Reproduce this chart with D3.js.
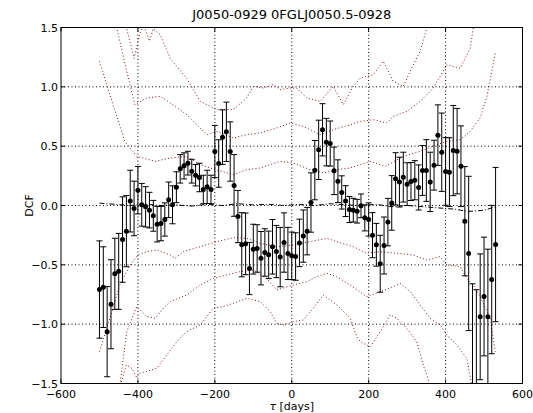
<!DOCTYPE html>
<html>
<head>
<meta charset="utf-8">
<script src="https://cdn.jsdelivr.net/npm/d3@7"></script>
<style>
  body { margin: 0; background: #fff; }
  svg { display: block; }
  text { font-family: "DejaVu Sans", sans-serif; fill: #000; }
</style>
</head>
<body>
<svg id="chart" width="533" height="413"></svg>
<script>
// Discrete correlation function, lag bins in days
const lagDays = [
  -500, -490, -480, -470, -460, -450, -440, -430, -420, -410,
  -400, -390, -380, -370, -360, -350, -340, -330, -320, -310,
  -300, -290, -280, -270, -260, -250, -240, -230, -220, -210,
  -200, -190, -180, -170, -160, -150, -140, -130, -120, -110,
  -100, -90, -80, -70, -60, -50, -40, -30, -20, -10,
  0, 10, 20, 30, 40, 50, 60, 70, 80, 90,
  100, 110, 120, 130, 140, 150, 160, 170, 180, 190,
  200, 210, 220, 230, 240, 250, 260, 270, 280, 290,
  300, 310, 320, 330, 340, 350, 360, 370, 380, 390,
  400, 410, 420, 430, 440, 450, 460, 470, 480, 490,
  500, 510, 520, 530
];
const dcfValues = [
  -0.708, -0.688, -1.063, -0.832, -0.576, -0.555, -0.287, -0.216, 0.037, -0.025,
  0.129, 0.006, -0.011, -0.039, -0.087, -0.157, -0.152, -0.118, 0.048, 0.006,
  0.154, 0.309, 0.334, 0.357, 0.289, 0.255, 0.236, 0.135, 0.157, 0.135,
  0.455, 0.354, 0.576, 0.621, 0.455, 0.169, -0.093, -0.331, -0.323, -0.531,
  -0.368, -0.362, -0.444, -0.396, -0.416, -0.348, -0.388, -0.435, -0.312, -0.404,
  -0.424, -0.430, -0.315, -0.258, -0.216, 0.025, 0.298, 0.469, 0.638, 0.534,
  0.522, 0.292, 0.205, 0.110, 0.037, -0.034, -0.039, -0.048, -0.003, -0.104,
  -0.118, -0.250, -0.331, -0.491, -0.337, -0.140, 0.022, 0.225, 0.197, 0.239,
  0.180, 0.202, 0.213, 0.152, 0.295, 0.295, 0.199, 0.340, 0.593, 0.449,
  0.287, 0.281, 0.463, 0.458, 0.331, -0.132, -0.404, -1.58, -1.62, -0.938,
  -0.767, -0.938, -0.624, -0.329
];
const dcfErrors = [
  0.41, 0.34, 0.38, 0.375, 0.30, 0.32, 0.36, 0.30, 0.26, 0.23,
  0.20, 0.18, 0.17, 0.15, 0.13, 0.15, 0.145, 0.14, 0.15, 0.16,
  0.13, 0.12, 0.11, 0.10, 0.10, 0.09, 0.12, 0.12, 0.14, 0.12,
  0.22, 0.20, 0.23, 0.25, 0.25, 0.26, 0.22, 0.27, 0.26, 0.22,
  0.21, 0.20, 0.225, 0.20, 0.20, 0.23, 0.22, 0.25, 0.25, 0.22,
  0.20, 0.20, 0.20, 0.22, 0.20, 0.25, 0.25, 0.25, 0.22, 0.20,
  0.19, 0.20, 0.18, 0.14, 0.13, 0.11, 0.10, 0.10, 0.10, 0.11,
  0.14, 0.19, 0.18, 0.24, 0.24, 0.20, 0.23, 0.22, 0.21, 0.21,
  0.18, 0.16, 0.165, 0.19, 0.21, 0.26, 0.25, 0.21, 0.255, 0.33,
  0.285, 0.29, 0.38, 0.36, 0.34, 0.46, 0.65, 0.92, 0.91, 0.53,
  0.50, 0.57, 0.625, 0.65
];

// Significance levels from simulated light curves: [lag, DCF]
const upper1 = [[-500,1.215],[-473,0.934],[-434,0.54],[-403,0.414],[-355,0.372],[-316,0.40],[-273,0.414],[-238,0.344],[-199,0.302],[-152,0.26],[-117,0.302],[-82,0.316],[-30,0.372],[4,0.358],[48,0.302],[82,0.274],[117,0.302],[152,0.316],[204,0.372],[243,0.33],[290,0.414],[334,0.456],[377,0.512],[403,0.54],[438,0.555],[464,0.625],[490,0.74],[507,0.913],[520,1.13],[529,1.285]];
const upper2 = [[-500,2.3],[-455,1.495],[-429,1.13],[-408,0.85],[-377,0.906],[-342,0.92],[-316,0.864],[-273,0.766],[-238,0.653],[-221,0.597],[-195,0.625],[-152,0.568],[-117,0.597],[-82,0.611],[-39,0.653],[-4,0.695],[30,0.667],[74,0.597],[108,0.639],[152,0.681],[178,0.709],[212,0.723],[247,0.695],[264,0.751],[299,0.793],[334,0.878],[368,0.99],[403,1.185],[438,1.157],[464,1.325],[472,1.495],[530,2.3]];
const upper3 = [[-500,2.8],[-430,1.5],[-410,1.24],[-395,1.45],[-385,1.52],[-370,1.386],[-360,1.49],[-342,1.44],[-316,1.24],[-273,1.07],[-238,0.878],[-195,0.808],[-152,0.808],[-117,0.906],[-100,1.004],[-74,0.99],[-48,1.018],[-30,0.976],[-4,0.99],[13,0.99],[39,0.906],[74,0.878],[108,1.004],[134,0.85],[160,1.004],[178,1.074],[212,1.102],[238,1.215],[264,1.046],[290,1.004],[316,1.186],[334,1.30],[351,1.495],[380,2.2],[530,3.0]];
const lower1 = [[-500,-1.232],[-473,-0.95],[-447,-0.67],[-420,-0.501],[-400,-0.417],[-377,-0.389],[-351,-0.375],[-316,-0.417],[-303,-0.445],[-282,-0.389],[-238,-0.347],[-195,-0.305],[-152,-0.271],[-117,-0.277],[-82,-0.319],[-39,-0.347],[4,-0.333],[48,-0.305],[91,-0.277],[117,-0.305],[160,-0.347],[195,-0.403],[230,-0.389],[273,-0.403],[316,-0.417],[351,-0.459],[386,-0.431],[403,-0.501],[438,-0.515],[455,-0.614],[472,-0.67],[490,-0.768],[516,-0.95],[529,-1.232]];
const lower2 = [[-500,-2.3],[-447,-1.512],[-429,-1.063],[-403,-0.852],[-377,-0.936],[-355,-0.95],[-334,-0.866],[-316,-0.81],[-273,-0.754],[-238,-0.67],[-204,-0.614],[-169,-0.585],[-134,-0.557],[-100,-0.543],[-65,-0.614],[-39,-0.712],[4,-0.67],[39,-0.642],[65,-0.60],[91,-0.571],[117,-0.60],[152,-0.67],[195,-0.768],[230,-0.726],[264,-0.684],[282,-0.656],[308,-0.726],[334,-0.838],[360,-0.95],[386,-1.007],[403,-1.091],[429,-1.175],[455,-1.288],[468,-1.512],[530,-2.3]];
const lower3 = [[-500,-2.5],[-446,-1.52],[-430,-1.344],[-416,-1.372],[-403,-1.45],[-395,-1.414],[-351,-1.372],[-325,-1.26],[-299,-1.147],[-273,-1.063],[-238,-1.007],[-204,-0.866],[-178,-0.852],[-152,-0.824],[-117,-0.782],[-82,-0.81],[-56,-0.894],[-39,-0.993],[-22,-1.007],[4,-0.979],[30,-0.965],[56,-0.866],[82,-0.754],[117,-0.838],[152,-0.95],[169,-1.105],[178,-1.147],[204,-1.19],[230,-1.063],[256,-0.922],[273,-0.95],[299,-1.035],[325,-1.147],[342,-1.344],[360,-1.512],[400,-2.3],[530,-3.0]];
// Mean of the simulated DCFs
const simMean = [[-500,0.02],[-460,0.01],[-420,0.0],[-380,0.01],[-340,0.0],[-300,0.005],[-260,-0.005],[-220,0.01],[-180,0.0],[-140,0.015],[-100,0.005],[-60,0.01],[-20,0.0],[20,0.01],[60,0.0],[100,0.015],[140,0.005],[180,0.0],[220,0.01],[260,-0.01],[300,0.0],[340,-0.01],[380,-0.02],[420,-0.03],[460,-0.05],[500,-0.04],[530,-0.01]];

const xTicks = [-600, -400, -200, 0, 200, 400, 600];
const yTicks = [-1.5, -1.0, -0.5, 0.0, 0.5, 1.0, 1.5];
const titleText = "J0050-0929 0FGLJ0050.5-0928";

const svg = d3.select("#chart");
const plotLeft = 61, plotRight = 522.5, plotTop = 27.5, plotBottom = 383.5;
const x = d3.scaleLinear().domain([-600, 600]).range([plotLeft, plotRight]);
const y = d3.scaleLinear().domain([-1.5, 1.5]).range([plotBottom, plotTop]);

svg.append("defs").append("clipPath").attr("id", "plotClip")
  .append("rect").attr("x", plotLeft).attr("y", plotTop)
  .attr("width", plotRight - plotLeft).attr("height", plotBottom - plotTop);

// grid
const grid = svg.append("g");
grid.selectAll("line.gx").data(xTicks.slice(1, -1)).join("line")
  .attr("x1", d => x(d)).attr("x2", d => x(d)).attr("y1", plotTop).attr("y2", plotBottom)
  .attr("stroke", "#000").attr("stroke-width", 1).attr("stroke-dasharray", "1,2.5");
grid.selectAll("line.gy").data(yTicks.slice(1, -1)).join("line")
  .attr("y1", d => y(d)).attr("y2", d => y(d)).attr("x1", plotLeft).attr("x2", plotRight)
  .attr("stroke", "#000").attr("stroke-width", 1).attr("stroke-dasharray", "1,2.5");

const plot = svg.append("g").attr("clip-path", "url(#plotClip)");
const line = d3.line().x(d => x(d[0])).y(d => y(d[1]));

[upper1, upper2, upper3, lower1, lower2, lower3].forEach(lv => {
  plot.append("path").attr("d", line(lv)).attr("fill", "none")
    .attr("stroke", "#8b1010").attr("stroke-width", 1).attr("stroke-dasharray", "1,2.3");
});
plot.append("path").attr("d", line(simMean)).attr("fill", "none")
  .attr("stroke", "#000").attr("stroke-width", 1).attr("stroke-dasharray", "5,2,1,2");

// error bars
const pts = lagDays.map((t, i) => ({ t, v: dcfValues[i], e: dcfErrors[i] }));
const eb = plot.append("g").attr("stroke", "#000").attr("stroke-width", 1);
eb.selectAll("line.bar").data(pts).join("line")
  .attr("x1", d => x(d.t)).attr("x2", d => x(d.t))
  .attr("y1", d => y(d.v + d.e)).attr("y2", d => y(d.v - d.e));
eb.selectAll("line.capHi").data(pts).join("line")
  .attr("x1", d => x(d.t) - 3).attr("x2", d => x(d.t) + 3)
  .attr("y1", d => y(d.v + d.e)).attr("y2", d => y(d.v + d.e));
eb.selectAll("line.capLo").data(pts).join("line")
  .attr("x1", d => x(d.t) - 3).attr("x2", d => x(d.t) + 3)
  .attr("y1", d => y(d.v - d.e)).attr("y2", d => y(d.v - d.e));
plot.selectAll("circle").data(pts).join("circle")
  .attr("cx", d => x(d.t)).attr("cy", d => y(d.v)).attr("r", 2.5).attr("fill", "#000");

// frame and ticks (inward on all sides)
svg.append("rect").attr("x", plotLeft).attr("y", plotTop)
  .attr("width", plotRight - plotLeft).attr("height", plotBottom - plotTop)
  .attr("fill", "none").attr("stroke", "#000").attr("stroke-width", 1);
const tk = svg.append("g").attr("stroke", "#000").attr("stroke-width", 1);
xTicks.forEach(t => {
  tk.append("line").attr("x1", x(t)).attr("x2", x(t)).attr("y1", plotBottom).attr("y2", plotBottom - 4);
  tk.append("line").attr("x1", x(t)).attr("x2", x(t)).attr("y1", plotTop).attr("y2", plotTop + 4);
});
yTicks.forEach(t => {
  tk.append("line").attr("x1", plotLeft).attr("x2", plotLeft + 4).attr("y1", y(t)).attr("y2", y(t));
  tk.append("line").attr("x1", plotRight).attr("x2", plotRight - 4).attr("y1", y(t)).attr("y2", y(t));
});

const fmtY = d => (d < 0 ? "\u2212" : "") + Math.abs(d).toFixed(1);
const fmtX = d => (d < 0 ? "\u2212" : "") + Math.abs(d);
svg.append("g").selectAll("text").data(xTicks).join("text")
  .attr("x", d => x(d)).attr("y", plotBottom + 14).attr("text-anchor", "middle")
  .attr("font-size", 11).text(fmtX);
svg.append("g").selectAll("text").data(yTicks).join("text")
  .attr("x", plotLeft - 3).attr("y", d => y(d) + 4).attr("text-anchor", "end")
  .attr("font-size", 11).text(fmtY);

svg.append("text").attr("x", (plotLeft + plotRight) / 2).attr("y", 19).attr("text-anchor", "middle")
  .attr("font-size", 13).text(titleText);
svg.append("text").attr("x", (plotLeft + plotRight) / 2).attr("y", 410).attr("text-anchor", "middle")
  .attr("font-size", 11).html('<tspan font-style="italic">\u03c4</tspan> [days]');
svg.append("text").attr("transform", `translate(33,${(plotTop + plotBottom) / 2}) rotate(-90)`)
  .attr("text-anchor", "middle").attr("font-size", 11).text("DCF");
</script>
</body>
</html>
